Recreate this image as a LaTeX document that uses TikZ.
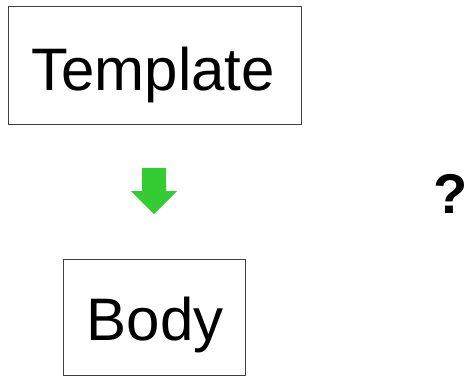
\documentclass[tikz,border=0pt]{standalone}
\usepackage{fontspec}
\setmainfont{Liberation Sans}
\definecolor{arrowgreen}{RGB}{51,204,51}
\begin{document}
\begin{tikzpicture}[x=1pt,y=-1pt,
  boxline/.style={draw=black!75,line width=1pt},
  bigtext/.style={inner sep=0pt,anchor=base,font=\fontsize{60}{60}\selectfont}]
\useasboundingbox (0,0) rectangle (473,376);
\node[boxline,minimum width=293pt,minimum height=118pt,inner sep=0pt] (template) at (154.5,65) {};
\node[bigtext] (templatetext) at (153,90) {Template};
\node[boxline,minimum width=182pt,minimum height=116pt,inner sep=0pt] (body) at (154,317) {};
\node[bigtext] (bodytext) at (155,340) {Body};
\fill[arrowgreen] (142,168) -- (166,168) -- (166,191) -- (177,191) -- (154,214) -- (131,191) -- (142,191) -- cycle;
\node[inner sep=0pt,anchor=base,font=\fontsize{56}{56}\selectfont\bfseries] (question) at (451,213) {?};
\end{tikzpicture}
\end{document}
